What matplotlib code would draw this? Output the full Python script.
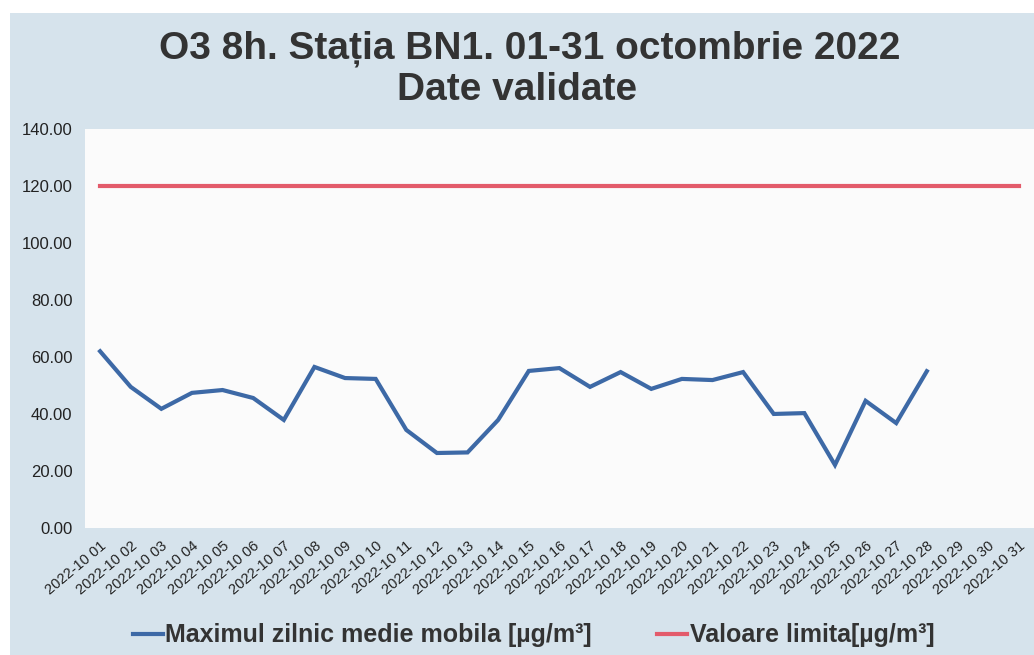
import numpy as np
import matplotlib.pyplot as plt
from matplotlib.patches import Rectangle

# date labels as printed on the chart (day 1..31 of October 2022)
days = ['2022-10 %02d' % d for d in range(1, 32)]
# max daily 8h running mean, days 29-31 missing
o3_max = [62.0, 49.5, 41.8, 47.4, 48.4, 45.6, 37.9, 56.5, 52.6, 52.3,
          34.4, 26.3, 26.5, 37.9, 55.1, 56.1, 49.5, 54.7, 48.8, 52.3,
          51.9, 54.7, 40.0, 40.3, 22.1, 44.6, 36.8, 55.0,
          np.nan, np.nan, np.nan]
limit = [120.0] * 31
yticks = [0, 20, 40, 60, 80, 100, 120, 140]

plt.rcParams['font.family'] = ['Liberation Sans', 'DejaVu Sans']

fig = plt.figure(figsize=(10.34, 6.55), dpi=100)
fig.patch.set_facecolor('white')
fig.patches.append(Rectangle((10 / 1034, 0), 1, 1 - 13 / 655,
                             transform=fig.transFigure, facecolor='#d6e3ec',
                             edgecolor='none', zorder=-10))

ax = fig.add_axes([0.082, 0.194, 0.918, 0.609])
ax.set_facecolor('#fbfbfb')
x = np.arange(len(days))
ax.plot(x, o3_max, color='#3d69a6', lw=3.0, solid_joinstyle='miter',
        label='Maximul zilnic medie mobila [µg/m³]')
ax.plot(x, limit, color='#e35b6b', lw=3.0,
        label='Valoare limita[µg/m³]')

ax.set_xlim(-0.5, len(days) - 0.5)
ax.set_ylim(0, 140)
ax.set_yticks(yticks)
ax.set_yticklabels(['%.2f' % v for v in yticks], fontsize=12, color='#222222')
ax.set_xticks(x)
ax.set_xticklabels(days, rotation=40, ha='right', rotation_mode='anchor',
                   fontsize=10.5, color='#222222')
ax.tick_params(axis='both', length=0)
ax.tick_params(axis='y', pad=9)
ax.tick_params(axis='x', pad=8)
for s in ax.spines.values():
    s.set_visible(False)

fig.text(0.512, 0.926, 'O3 8h. Stația BN1. 01-31 octombrie 2022', ha='center',
         va='center', fontsize=28, fontweight='bold', color='#333333')
fig.text(0.5, 0.862, 'Date validate', ha='center', va='center',
         fontsize=28, fontweight='bold', color='#333333')

leg = fig.legend(loc='center', bbox_to_anchor=(0.516, 0.03), ncol=2, frameon=False,
                 handlelength=1.2, handletextpad=0.1,
                 columnspacing=2.6, prop={'weight': 'bold', 'size': 18})
for t in leg.get_texts():
    t.set_color('#333333')

fig.savefig('out.png', dpi=100)
